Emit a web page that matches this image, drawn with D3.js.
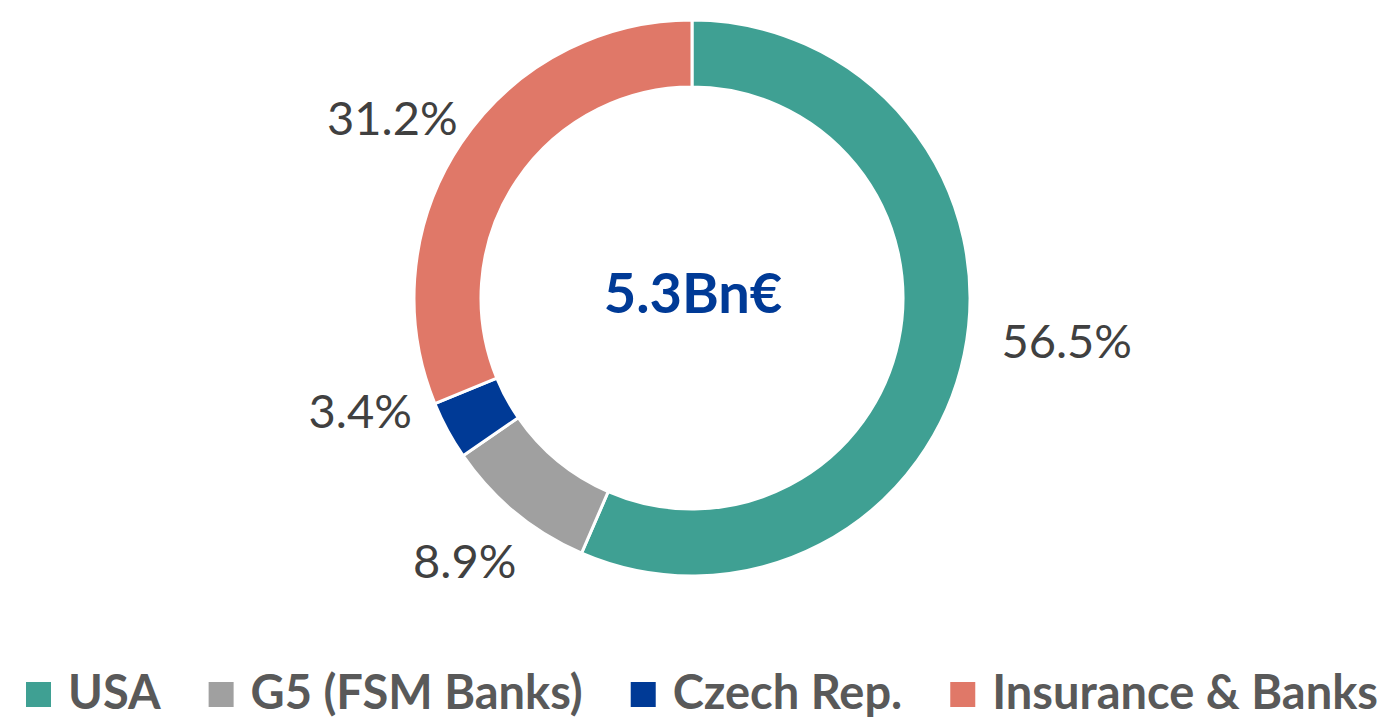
<!DOCTYPE html>
<html>
<head>
<meta charset="utf-8">
<script src="https://cdn.jsdelivr.net/npm/d3@7"></script>
<style>
html,body{margin:0;padding:0;background:#fff;}
svg{display:block;}
</style>
</head>
<body>
<svg id="chart" width="1382" height="721"></svg>
<script>
const categories = ["USA", "G5 (FSM Banks)", "Czech Rep.", "Insurance & Banks"];
const values = [56.5, 8.9, 3.4, 31.2];
const labels = ["56.5%", "8.9%", "3.4%", "31.2%"];
const centerLabel = "5.3Bn€";
const colors = ["#3FA093", "#A0A0A0", "#003A96", "#E07868"];
const labelNudge = [[32, -29], [-5, -8], [-24, -55], [-9, 14]];

const svg = d3.select("#chart");
const cx = 692, cy = 298, outerR = 278, innerR = 211;
const FONT = "Lato, 'Open Sans', sans-serif";

const pie = d3.pie().sort(null).value(d => d);
const arcs = pie(values);
const arc = d3.arc().innerRadius(innerR).outerRadius(outerR);
const labelArc = d3.arc().innerRadius(350).outerRadius(350);

const g = svg.append("g").attr("transform", `translate(${cx},${cy})`);
g.selectAll("path").data(arcs).enter().append("path")
  .attr("d", arc)
  .attr("fill", (d, i) => colors[i])
  .attr("stroke", "#fff")
  .attr("stroke-width", 3)
  .attr("stroke-linejoin", "miter");

g.selectAll("text.lbl").data(arcs).enter().append("text")
  .attr("class", "lbl")
  .attr("x", (d, i) => labelArc.centroid(d)[0] + labelNudge[i][0])
  .attr("y", (d, i) => labelArc.centroid(d)[1] + labelNudge[i][1])
  .attr("text-anchor", "middle")
  .attr("dominant-baseline", "central")
  .attr("font-family", FONT)
  .attr("font-size", 47)
  .attr("fill", "#404040")
  .text((d, i) => labels[i]);

g.append("text")
  .attr("x", 1).attr("y", -7)
  .attr("text-anchor", "middle")
  .attr("dominant-baseline", "central")
  .attr("font-family", FONT)
  .attr("font-weight", "bold")
  .attr("font-size", 56)
  .attr("fill", "#003A96")
  .text(centerLabel);

// legend
const legend = svg.append("g");
const fs = 47, sq = 25, gapSqText = 17;
const startX = 26, endX = 1378;
const items = legend.selectAll("g").data(categories).enter().append("g");
items.append("rect").attr("width", sq).attr("height", sq).attr("fill", (d, i) => colors[i]);
items.append("text")
  .attr("font-family", FONT).attr("font-weight", "bold").attr("font-size", fs)
  .attr("fill", "#595959")
  .text(d => d);
let widths = [];
items.select("text").each(function() { widths.push(this.getComputedTextLength()); });
const gapItems = (endX - startX - d3.sum(widths) - categories.length * (sq + gapSqText)) / (categories.length - 1);
let x = startX;
const baseY = 709;
items.each(function(d, i) {
  const it = d3.select(this);
  it.select("rect").attr("x", x).attr("y", baseY - 27);
  it.select("text").attr("x", x + sq + gapSqText).attr("y", baseY);
  x += sq + gapSqText + widths[i] + gapItems;
});
</script>
</body>
</html>
